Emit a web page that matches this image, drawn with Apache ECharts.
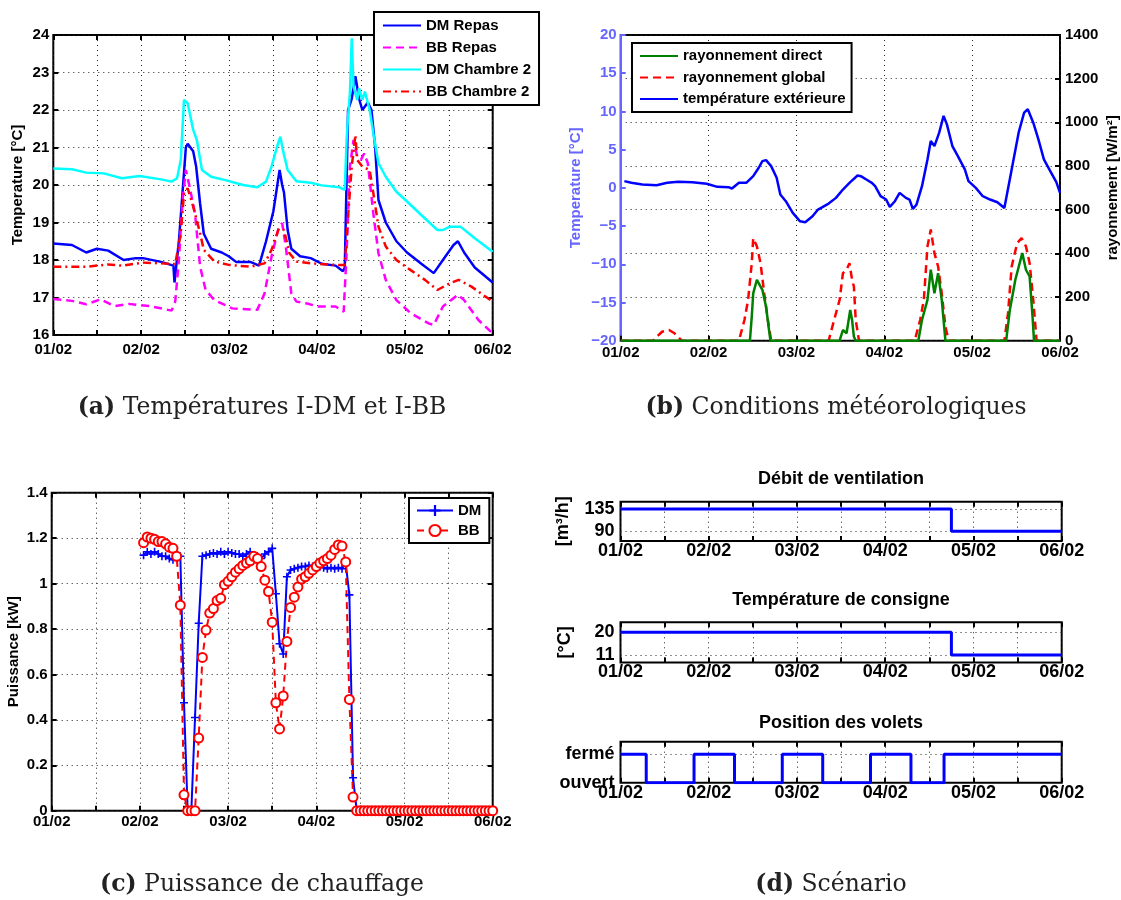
<!DOCTYPE html>
<html><head><meta charset="utf-8">
<script src="https://cdn.jsdelivr.net/npm/echarts@6/dist/echarts.min.js"></script>
<style>html,body{margin:0;padding:0;background:#fff}#c{width:1121px;height:900px}</style>
</head><body><div id="c"></div>
<script>
// ---------- tick labels ----------
const dayLabels = ['01/02','02/02','03/02','04/02','05/02','06/02'];
const ventTicks = [90, 135];
const consTicks = [11, 20];
const voletTicks = [0, 1];
const voletNames = ['ouvert', 'fermé'];

// ---------- (a) indoor temperatures (hours since 01/02 00:00, °C) ----------
const dmRepasT = [0,5.1,9.0,11.9,15,19.2,22.6,24.5,29.4,32.8,33.1,34.3,36.2,36.7,38.2,39.0,40.1,41.1,43.1,46.0,47.9,49.9,53.8,56.2,58.1,60.1,61.8,62.5,63.0,64.0,65.0,67.4,70.3,73.3,77.1,79.1,79.6,80.5,81.5,82.5,83.5,84.4,85.9,86.9,87.9,88.8,90.8,93.7,96.6,100.5,103.9,106.4,109.3,110.5,112.2,115.1,120];
const dmRepasV = [18.44,18.4,18.2,18.3,18.25,18.0,18.05,18.05,17.95,17.85,17.4,18.5,21.0,21.1,20.9,20.5,19.5,18.7,18.3,18.2,18.1,17.95,17.95,17.85,18.5,19.3,20.4,20.0,19.8,18.8,18.3,18.1,18.05,17.9,17.85,17.7,17.8,22.0,22.3,22.9,22.3,22.0,22.2,22.0,21.0,19.6,19.0,18.5,18.2,17.9,17.65,18.0,18.4,18.5,18.2,17.8,17.4];
const bbRepasT = [0,5.1,9.0,12.9,16.8,20.6,26.5,32.3,33.3,34.3,35.3,36.2,37.2,38.7,40.1,41.6,44.0,48.9,53.8,55.7,57.7,59.6,61.6,62.5,63.5,65.0,66.4,69.3,72.3,77.1,79.3,80.1,81.0,82.0,83.0,84.0,84.9,85.9,87.4,88.8,90.8,93.7,97.6,102.5,103.9,106.4,110.5,112.2,116.1,120];
const bbRepasV = [16.96,16.91,16.82,16.95,16.77,16.83,16.77,16.65,16.89,18.0,19.6,20.4,19.96,19.24,17.82,17.2,16.93,16.71,16.68,16.67,17.11,18.09,18.89,18.98,18.36,17.11,16.89,16.84,16.76,16.76,16.62,18.18,20.49,21.2,20.76,20.67,20.84,20.58,19.24,18.18,17.47,16.93,16.58,16.31,16.27,16.76,17.07,16.93,16.4,16.04];
const dmCh2T = [0,5.1,9.0,13.8,18.7,23.6,29.4,32.3,33.8,34.8,35.7,36.7,38.2,39.2,40.6,43.1,47.0,51.8,55.7,58.1,59.6,61.1,62.0,62.7,64.0,66.4,70.3,73.3,78.1,79.6,80.1,80.5,81.0,81.5,82.0,83.0,83.5,84.4,85.1,86.4,87.4,88.8,90.8,93.7,96.6,100.5,104.9,106.4,108.3,111.2,115.1,120];
const dmCh2V = [20.44,20.42,20.33,20.31,20.18,20.24,20.15,20.09,20.18,20.67,22.27,22.18,21.47,21.2,20.4,20.22,20.13,20.0,19.94,20.09,20.49,21.02,21.29,20.93,20.4,20.1,20.06,19.99,19.94,19.87,21.2,21.82,22.44,23.91,22.62,22.27,22.58,22.27,22.49,22.0,21.38,20.58,20.22,19.82,19.56,19.2,18.8,18.8,18.89,18.89,18.58,18.22];
const bbCh2T = [0,9.0,14.8,18.7,24.5,29.4,33.3,34.8,35.7,36.7,37.7,38.7,40.1,41.1,44.0,47.9,53.8,57.7,59.6,61.6,63.0,64.5,66.4,70.3,77.1,79.6,80.5,81.5,82.5,83.0,84.4,86.4,87.4,88.8,90.8,93.7,97.6,101.5,104.9,108.3,110.7,114.2,120];
const bbCh2V = [17.82,17.82,17.88,17.85,17.93,17.91,17.89,18.71,19.78,19.91,19.6,19.24,18.71,18.27,17.96,17.87,17.82,17.91,18.27,18.84,18.8,18.18,17.96,17.91,17.87,17.87,19.16,20.49,21.33,20.67,20.49,20.4,19.78,18.89,18.36,18.0,17.73,17.47,17.2,17.38,17.47,17.29,16.89];

// ---------- (b) weather ----------
const tExtT = [1.0,2.9,5.9,9.8,12.7,15.7,19.6,23.5,26.4,29.4,30.4,32.3,34.3,36.2,37.7,38.7,39.7,41.1,42.6,43.6,45.1,47.0,49.0,50.4,52.4,53.9,56.8,58.8,60.7,62.7,64.7,65.6,67.1,68.6,69.5,71.0,72.5,73.5,74.9,76.2,77.9,78.9,79.8,80.8,82.3,83.8,84.7,85.7,87.0,88.2,89.1,90.6,92.1,94.0,95.0,97.0,98.9,100.9,102.9,104.8,106.8,108.7,110.2,111.2,112.7,114.1,115.6,117.6,119.0,120.0];
const tExtV = [0.88,0.66,0.44,0.35,0.66,0.79,0.74,0.53,0.13,0.09,-0.09,0.66,0.66,1.53,2.63,3.5,3.63,2.84,1.31,-0.88,-1.75,-3.28,-4.38,-4.51,-3.72,-2.84,-2.06,-1.31,-0.22,0.74,1.62,1.53,1.09,0.66,0.22,-1.09,-1.53,-2.49,-1.75,-0.66,-1.31,-1.53,-2.76,-2.19,0.22,3.72,6.13,5.47,7.22,9.41,8.31,5.47,4.16,2.41,0.88,0.0,-1.09,-1.53,-1.88,-2.63,2.41,7.22,9.85,10.28,8.53,6.35,3.72,1.97,0.74,-0.66];
const globT = [0,8.8,11.3,13.2,14.7,16.7,32.3,33.8,34.8,35.8,36.2,37.2,38.2,39.2,40.2,41.1,56.8,58.3,59.8,60.7,61.7,62.5,63.2,63.7,64.2,65.1,80.3,81.8,82.8,83.8,84.7,85.7,86.7,87.7,88.7,89.6,104.8,105.8,106.8,108.3,109.5,110.7,111.7,112.7,113.6,120];
const globV = [0,0,41,49,34,0,0,95,187,355,470,432,355,217,95,0,0,95,187,309,325,355,279,248,95,0,0,95,187,432,509,401,340,217,64,0,0,126,340,447,470,432,355,187,0,0];
const dirT = [0,35.3,35.8,36.2,37.2,38.7,39.7,40.4,40.9,59.8,60.7,61.7,62.7,63.2,63.7,64.2,81.3,82.3,83.8,84.7,85.7,86.7,87.7,88.7,105.3,106.3,107.8,109.7,110.7,111.7,112.5,112.9,120];
const dirV = [0,0,110,217,279,233,156,64,0,0,49,34,141,95,18,0,0,95,187,325,217,309,187,0,0,141,279,401,325,294,110,0,0];

// ---------- (c) heating power (kW), hourly ----------
const powT = [25,26,27,28,29,30,31,32,33,34,35,36,37,38,39,40,41,42,43,44,45,46,47,48,49,50,51,52,53,54,55,56,57,58,59,60,61,62,63,64,65,66,67,68,69,70,71,72,73,74,75,76,77,78,79,80,81,82,83,84,85,86,87,88,89,90,91,92,93,94,95,96,97,98,99,100,101,102,103,104,105,106,107,108,109,110,111,112,113,114,115,116,117,118,119,120];
const dmPow = [1.125,1.14,1.13,1.14,1.13,1.12,1.12,1.11,1.105,1.12,1.12,0.475,0,0,0.41,0.825,1.12,1.125,1.13,1.135,1.13,1.14,1.13,1.14,1.135,1.13,1.13,1.12,1.13,1.14,1.125,1.12,1.11,1.13,1.14,1.155,0.955,0.735,0.69,1.03,1.06,1.065,1.07,1.075,1.075,1.08,1.075,1.08,1.075,1.07,1.065,1.07,1.065,1.07,1.065,1.09,0.95,0.145,0,0,0,0,0,0,0,0,0,0,0,0,0,0,0,0,0,0,0,0,0,0,0,0,0,0,0,0,0,0,0,0,0,0,0,0,0,0];
const bbPow = [1.18,1.205,1.2,1.195,1.185,1.185,1.175,1.16,1.155,1.12,0.905,0.07,0,0,0,0.32,0.675,0.795,0.87,0.89,0.925,0.935,0.995,1.01,1.03,1.05,1.065,1.08,1.09,1.1,1.12,1.11,1.075,1.015,0.965,0.83,0.475,0.36,0.505,0.745,0.895,0.94,0.985,1.02,1.03,1.045,1.06,1.075,1.09,1.1,1.11,1.125,1.15,1.17,1.165,1.095,0.49,0.06,0,0,0,0,0,0,0,0,0,0,0,0,0,0,0,0,0,0,0,0,0,0,0,0,0,0,0,0,0,0,0,0,0,0,0,0,0,0];

// ---------- (d) scenario ----------
const ventT = [0, 90, 120];
const ventV = [135, 90, 90];
const consT = [0, 90, 120];
const consV = [20, 11, 11];
const voletT = [0, 7, 20, 31, 44, 55, 68, 79, 88, 120];
const voletV = [1, 0, 1, 0, 1, 0, 1, 0, 1, 1];

// ---------- build ----------
const FF = '"Liberation Sans", Arial, sans-serif';
const SERIF = '"DejaVu Serif", serif';
const GRID = {type: [1, 4], color: '#222', width: 1};
const zip = (t, v) => t.map((x, i) => [x, v[i]]);
const dayFmt = v => (v % 24 === 0 ? dayLabels[v / 24] : '');

const grids = [
  {left: 53.3, top: 35, width: 439.4, height: 300},
  {left: 620.7, top: 35, width: 439.3, height: 305.7},
  {left: 51.7, top: 492.7, width: 441, height: 318},
  {left: 620.5, top: 501.7, width: 441.2, height: 39.3},
  {left: 620.5, top: 622.3, width: 441.2, height: 40.2},
  {left: 620.5, top: 741.7, width: 441.2, height: 41}
].map(g => Object.assign(g, {show: true, borderColor: '#000', borderWidth: 2, backgroundColor: 'transparent', containLabel: false, outerBoundsMode: 'none'}));

const xAxes = [], yAxes = [];
function addX(gi, step, fs, margin, top) {
  xAxes.push({
    type: 'value', gridIndex: gi, min: 0, max: 120, interval: step, position: top ? 'top' : 'bottom',
    axisLine: {show: false, onZero: false},
    axisTick: {show: true, inside: true, length: 5, lineStyle: {color: '#000', width: 2}},
    axisLabel: {show: !top, fontSize: fs, fontWeight: 'bold', color: '#000', fontFamily: FF, margin: margin, formatter: dayFmt},
    splitLine: {show: !top, lineStyle: GRID}
  });
  return xAxes.length - 1;
}
function addY(cfg) { yAxes.push(cfg); return yAxes.length - 1; }
const yLab = (fs, margin, extra) => Object.assign({fontSize: fs, fontWeight: 'bold', color: '#000', fontFamily: FF, margin: margin}, extra || {});
const nameStyle = (fs, color) => ({fontSize: fs, fontWeight: 'bold', color: color || '#000', fontFamily: FF});
const tickIn = (color) => ({show: true, inside: true, length: 5, lineStyle: {color: color || '#000', width: 2}});

// x axes
const xa = addX(0, 12, 15, 7), xb = addX(1, 24, 15, 5), xc = addX(2, 12, 15, 4);
const xd1 = addX(3, 12, 18, 1), xd2 = addX(4, 12, 18, 1), xd3 = addX(5, 12, 18, 1);
addX(0, 12, 15, 7, true); addX(2, 12, 15, 4, true);
addX(3, 12, 18, 1, true); addX(4, 12, 18, 1, true); addX(5, 12, 18, 1, true);

// y axes
const ya = addY({type: 'value', gridIndex: 0, min: 16, max: 24, interval: 1,
  name: 'Temperature [°C]', nameLocation: 'middle', nameRotate: 90, nameGap: 28, nameTextStyle: nameStyle(15),
  axisLine: {show: false, onZero: false}, axisTick: tickIn(),
  axisLabel: yLab(15, 4), splitLine: {show: true, lineStyle: GRID}});
addY({type: 'value', gridIndex: 0, min: 16, max: 24, interval: 1, position: 'right',
  axisLine: {show: false, onZero: false}, axisTick: tickIn(),
  axisLabel: {show: false}, splitLine: {show: false}});
const ybL = addY({type: 'value', gridIndex: 1, min: -20, max: 20, interval: 5, position: 'left',
  name: 'Temperature [°C]', nameLocation: 'middle', nameRotate: 90, nameGap: 37, nameTextStyle: nameStyle(15, '#6666ff'),
  axisLine: {show: true, onZero: false, lineStyle: {color: '#6666ff', width: 2}},
  axisTick: tickIn('#6666ff'),
  axisLabel: yLab(15, 4, {color: '#6666ff', formatter: v => String(v).replace('-', '\u2212')}),
  splitLine: {show: false}});
const ybR = addY({type: 'value', gridIndex: 1, min: 0, max: 1400, interval: 200, position: 'right',
  name: 'rayonnement [W/m²]', nameLocation: 'middle', nameRotate: 90, nameGap: 45, nameTextStyle: nameStyle(15),
  axisLine: {show: false, onZero: false}, axisTick: tickIn(),
  axisLabel: yLab(15, 5, {formatter: v => String(v)}), splitLine: {show: true, lineStyle: GRID}});
const yc = addY({type: 'value', gridIndex: 2, min: 0, max: 1.4, interval: 0.2,
  name: 'Puissance [kW]', nameLocation: 'middle', nameRotate: 90, nameGap: 30, nameTextStyle: nameStyle(15),
  axisLine: {show: false, onZero: false}, axisTick: tickIn(),
  axisLabel: yLab(15, 4), splitLine: {show: true, lineStyle: GRID}});
addY({type: 'value', gridIndex: 2, min: 0, max: 1.4, interval: 0.2, position: 'right',
  axisLine: {show: false, onZero: false}, axisTick: tickIn(),
  axisLabel: {show: false}, splitLine: {show: false}});
const yd1 = addY({type: 'value', gridIndex: 3, min: 70, max: 150, interval: 5,
  name: '[m³/h]', nameLocation: 'middle', nameRotate: 90, nameGap: 48, nameTextStyle: nameStyle(18),
  axisLine: {show: false, onZero: false}, axisTick: {show: false},
  axisLabel: yLab(18, 6, {formatter: v => (ventTicks.indexOf(v) >= 0 ? String(v) : '')}), splitLine: {show: false}});
const yd2 = addY({type: 'value', gridIndex: 4, min: 8, max: 24, interval: 1,
  name: '[°C]', nameLocation: 'middle', nameRotate: 90, nameGap: 46, nameTextStyle: nameStyle(18),
  axisLine: {show: false, onZero: false}, axisTick: {show: false},
  axisLabel: yLab(18, 6, {formatter: v => (consTicks.indexOf(v) >= 0 ? String(v) : '')}), splitLine: {show: false}});
const yd3 = addY({type: 'value', gridIndex: 5, min: 0, max: 1.44, interval: 1,
  axisLine: {show: false, onZero: false}, axisTick: {show: false},
  axisLabel: yLab(18, 6, {formatter: v => { const i = voletTicks.indexOf(v); return i >= 0 ? voletNames[i] : ''; }}),
  splitLine: {show: false}});

const gridMark = (vals) => ({silent: true, symbol: ['none', 'none'], z: 1, label: {show: false},
  lineStyle: GRID, emphasis: {disabled: true}, data: vals.map(v => ({yAxis: v}))});

const line = (name, xi, yi, data, color, width, type, extra) => Object.assign({
  name: name, type: 'line', xAxisIndex: xi, yAxisIndex: yi, data: data,
  symbol: 'none', showSymbol: false, smooth: false,
  lineStyle: {color: color, width: width, type: type || 'solid'},
  itemStyle: {color: color}, emphasis: {disabled: true}
}, extra || {});

const series = [
  line('DM Repas', xa, ya, zip(dmRepasT, dmRepasV), '#0000ff', 2.5),
  line('BB Repas', xa, ya, zip(bbRepasT, bbRepasV), '#ff00ff', 2.5, [8, 5]),
  line('DM Chambre 2', xa, ya, zip(dmCh2T, dmCh2V), '#00ffff', 2.5),
  line('BB Chambre 2', xa, ya, zip(bbCh2T, bbCh2V), '#ff0000', 2.5, [8, 4, 2, 4]),

  line('rayonnement global', xb, ybR, zip(globT, globV), '#ff0000', 2.5, [8, 5]),
  line('rayonnement direct', xb, ybR, zip(dirT, dirV), '#008000', 2.5),
  line('température extérieure', xb, ybL, zip(tExtT, tExtV), '#0000ff', 2.5),

  line('DM', xc, yc, zip(powT, dmPow), '#0000ff', 2, 'solid', {
    symbol: 'path://M4,0H6V4H10V6H6V10H4V6H0V4H4Z', symbolSize: 8, showSymbol: true,
    itemStyle: {color: '#0000ff'}}),
  line('BB', xc, yc, zip(powT, bbPow), '#ff0000', 2, [7, 5], {
    symbol: 'emptyCircle', symbolSize: 9, showSymbol: true,
    itemStyle: {color: '#ff0000', borderColor: '#ff0000', borderWidth: 2}}),

  line('vent', xd1, yd1, zip(ventT, ventV), '#0000ff', 3, 'solid', {step: 'end', markLine: gridMark(ventTicks)}),
  line('cons', xd2, yd2, zip(consT, consV), '#0000ff', 3, 'solid', {step: 'end', markLine: gridMark(consTicks)}),
  line('volet', xd3, yd3, zip(voletT, voletV), '#0000ff', 3, 'solid', {step: 'end', markLine: gridMark([voletTicks[1]])})
];

const legendBase = {orient: 'vertical', itemWidth: 38, itemHeight: 14, borderColor: '#000', borderWidth: 2,
  backgroundColor: '#fff', borderRadius: 0, selectedMode: false,
  textStyle: {fontSize: 15, fontWeight: 'bold', color: '#000', fontFamily: FF}};
const legends = [
  Object.assign({}, legendBase, {data: ['DM Repas', 'BB Repas', 'DM Chambre 2', 'BB Chambre 2'], left: 374, top: 12, itemGap: 7, padding: [6, 8, 6, 8], itemStyle: {opacity: 0}}),
  Object.assign({}, legendBase, {data: ['rayonnement direct', 'rayonnement global', 'température extérieure'], left: 632, top: 43, itemGap: 6.5, padding: [5.5, 6, 5.5, 7], itemStyle: {opacity: 0}}),
  Object.assign({}, legendBase, {data: ['DM', 'BB'], left: 409, top: 498, itemWidth: 36, itemGap: 5, padding: [5, 8, 5, 7]})
];

const txt = (x, y, text, style) => ({type: 'text', x: x, y: y, silent: true,
  style: Object.assign({text: text, align: 'center', verticalAlign: 'middle', textAlign: 'center', textVerticalAlign: 'middle', fill: '#000'}, style)});
const capStyle = {fontFamily: SERIF, fontSize: 23.5, fill: '#222', rich: {b: {fontFamily: SERIF, fontSize: 23.5, fontWeight: 'bold', fill: '#222'}}};
const titleStyle = {fontFamily: FF, fontSize: 18, fontWeight: 'bold', fill: '#000'};

const graphic = [
  txt(262, 408, '{b|(a)} Températures I-DM et I-BB', capStyle),
  txt(836, 408, '{b|(b)} Conditions météorologiques', capStyle),
  txt(262, 885, '{b|(c)} Puissance de chauffage', capStyle),
  txt(831, 885, '{b|(d)} Scénario', capStyle),
  txt(841, 479, 'Débit de ventilation', titleStyle),
  txt(841, 600, 'Température de consigne', titleStyle),
  txt(841, 723, 'Position des volets', titleStyle)
];

const chart = echarts.init(document.getElementById('c'), null, {renderer: 'canvas'});
chart.setOption({
  animation: false,
  backgroundColor: '#fff',
  textStyle: {fontFamily: FF},
  grid: grids, xAxis: xAxes, yAxis: yAxes,
  legend: legends, series: series, graphic: graphic
});
</script></body></html>
